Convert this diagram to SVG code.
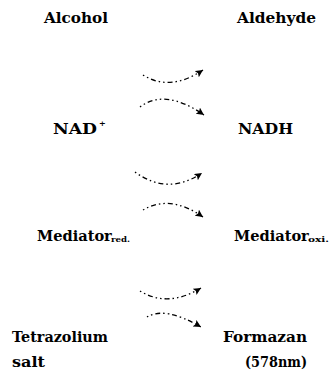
<svg xmlns="http://www.w3.org/2000/svg" width="330" height="383" viewBox="0 0 330 383">
  <defs>
    <style>
      .lbl { font-family: "DejaVu Serif", "Liberation Serif", serif; font-weight: bold; font-size: 15px; fill: #000; }
      .med { font-size: 14.6px; }
      .sub { font-size: 8px; }
      .arc { fill: none; stroke: #000; stroke-width: 1.3; stroke-dasharray: 1.5 3 1.5 3 5 3; }
    </style>
    <marker id="ah" markerUnits="userSpaceOnUse" markerWidth="10" markerHeight="10" refX="7.5" refY="3.75" orient="auto">
      <path d="M0,0 L7.5,3.75 L0,7.5 L1.5,3.75 Z" fill="#000"/>
    </marker>
  </defs>
  <rect width="330" height="383" fill="#fff"/>

  <g id="alcohol"><text class="lbl" x="44" y="23" textLength="64" lengthAdjust="spacingAndGlyphs">Alcohol</text></g>
  <g id="aldehyde"><text class="lbl" x="237" y="23" textLength="79" lengthAdjust="spacingAndGlyphs">Aldehyde</text></g>
  <g id="nad"><text class="lbl" x="53" y="134"><tspan textLength="44" lengthAdjust="spacingAndGlyphs">NAD</tspan><tspan class="sub" x="99" y="126">+</tspan></text></g>
  <g id="nadh"><text class="lbl" x="238" y="134" textLength="55" lengthAdjust="spacingAndGlyphs">NADH</text></g>
  <g id="mediator-red"><text class="lbl" x="37" y="241"><tspan class="med">Mediator</tspan><tspan class="sub" x="111" y="242" textLength="19" lengthAdjust="spacingAndGlyphs">red.</tspan></text></g>
  <g id="mediator-oxi"><text class="lbl" x="234" y="241"><tspan class="med">Mediator</tspan><tspan class="sub" x="308" y="242" textLength="21" lengthAdjust="spacingAndGlyphs">oxi.</tspan></text></g>
  <g id="tetrazolium"><text class="lbl" x="12" y="342" textLength="96" lengthAdjust="spacingAndGlyphs">Tetrazolium</text><text class="lbl" x="12" y="367" textLength="33" lengthAdjust="spacingAndGlyphs">salt</text></g>
  <g id="formazan"><text class="lbl" x="223" y="342" textLength="84" lengthAdjust="spacingAndGlyphs">Formazan</text><text class="lbl" x="245" y="367" textLength="62" lengthAdjust="spacingAndGlyphs">(578nm)</text></g>

  <g id="connectors">
    <path class="arc" d="M143,75 Q170,92 203,70" marker-end="url(#ah)"/>
    <path class="arc" d="M140,107 Q165,88 204,115" marker-end="url(#ah)"/>
    <path class="arc" d="M135,172 Q168,196 202,173" marker-end="url(#ah)"/>
    <path class="arc" d="M143,210 Q170,194 203,217" marker-end="url(#ah)"/>
    <path class="arc" d="M140,291 Q168,308 201,288" marker-end="url(#ah)"/>
    <path class="arc" d="M147,317 Q165,306 201,327" marker-end="url(#ah)"/>
  </g>
</svg>
